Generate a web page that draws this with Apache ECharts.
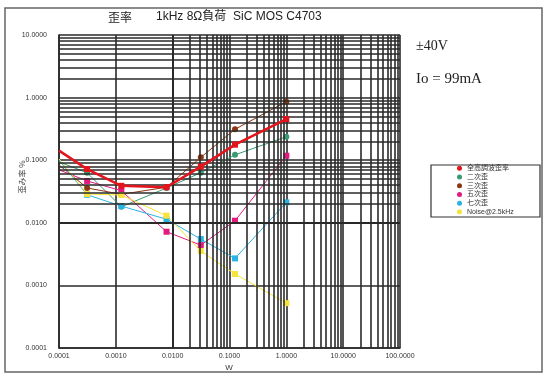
<!DOCTYPE html>
<html>
<head>
<meta charset="utf-8">
<script src="https://cdn.jsdelivr.net/npm/echarts@6/dist/echarts.min.js"></script>
<style>html,body{margin:0;padding:0;background:#fff;}#c{width:548px;height:385px;}</style>
</head>
<body>
<div id="c"></div>
<script>
// Output power (W)
var powerW = [0.0001, 0.0003125, 0.00125, 0.0078, 0.03125, 0.125, 1.0];
// Distortion (%)
var thd    = [0.142, 0.072, 0.039, 0.037, 0.079, 0.177, 0.455];
var h2     = [0.094, 0.063, 0.018, 0.036, 0.063, 0.122, 0.237];
var h3     = [0.084, 0.036, 0.0285, 0.037, 0.111, 0.312, 0.861];
var h5     = [0.070, 0.0466, 0.0326, 0.0072, 0.0044, 0.0108, 0.118];
var h7     = [0.100, 0.028, 0.0185, 0.0114, 0.0055, 0.0027, 0.0212];
var noise  = [0.105, 0.0288, 0.0278, 0.013, 0.00355, 0.00152, 0.00052];
var seriesNames = ['全高調波歪率', '二次歪', '三次歪', '五次歪', '七次歪', 'Noise@2.5kHz'];
var xTickLabels = ['0.0001', '0.0010', '0.0100', '0.1000', '1.0000', '10.0000', '100.0000'];
var yTickLabels = ['0.0001', '0.0010', '0.0100', '0.1000', '1.0000', '10.0000'];

var seriesValues = [thd, h2, h3, h5, h7, noise];
var colors = ['#e3151c', '#3a9a72', '#8b3513', '#e2197f', '#2ab4e4', '#f6e43a'];
var symbols = ['rect', 'circle', 'circle', 'rect', 'rect', 'rect'];
var widths = [2.5, 1, 1, 1, 1, 1];

// minor log grid lines (2..9 per decade)
var xMinor = [], yMinor = [];
for (var k = -4; k <= 1; k++) for (var m = 2; m <= 9; m++) xMinor.push({xAxis: +(m * Math.pow(10, k)).toPrecision(3)});
for (var k2 = -4; k2 <= 0; k2++) for (var m2 = 2; m2 <= 9; m2++) yMinor.push({yAxis: +(m2 * Math.pow(10, k2)).toPrecision(3)});

var gridLine = {color: '#2a2a2a', width: 1.6, type: 'solid'};

var series = seriesValues.map(function (vals, i) {
  return {
    name: seriesNames[i],
    type: 'line',
    data: vals.map(function (v, j) {
      var item = {value: [powerW[j], v]};
      if (j === 0) item.symbol = 'none';
      return item;
    }),
    symbol: symbols[i],
    symbolSize: 6,
    showAllSymbol: true,
    clip: true,
    color: colors[i],
    lineStyle: {color: colors[i], width: widths[i]},
    itemStyle: {color: colors[i]},
    z: i === 0 ? 5 : 3,
    animation: false
  };
});
series.push({
  type: 'line', data: [], silent: true, animation: false,
  markLine: {silent: true, symbol: 'none', label: {show: false}, animation: false,
    lineStyle: gridLine, data: xMinor.concat(yMinor)}
});

var chart = echarts.init(document.getElementById('c'), null, {renderer: 'canvas'});
chart.setOption({
  animation: false,
  backgroundColor: '#fff',
  grid: {left: 59, right: 148, top: 35, bottom: 37},
  xAxis: {
    type: 'log', logBase: 10, min: 0.0001, max: 100, splitNumber: 6,
    axisLine: {show: true, lineStyle: {color: '#2a2a2a', width: 1.6}},
    axisTick: {show: false},
    splitLine: {show: true, lineStyle: gridLine},
    axisLabel: {fontSize: 7, color: '#333', margin: 5, fontFamily: 'Liberation Sans',
      formatter: function (v) { var e = Math.round(Math.log10(v)); return xTickLabels[e + 4]; }}
  },
  yAxis: {
    type: 'log', logBase: 10, min: 0.0001, max: 10, splitNumber: 5,
    axisLine: {show: true, lineStyle: {color: '#2a2a2a', width: 1.6}},
    axisTick: {show: false},
    splitLine: {show: true, lineStyle: gridLine},
    axisLabel: {fontSize: 7, color: '#333', margin: 12, fontFamily: 'Liberation Sans',
      formatter: function (v) { var e = Math.round(Math.log10(v)); return yTickLabels[e + 4]; }}
  },
  legend: {
    orient: 'vertical', left: 457, top: 164, padding: 0, itemGap: 0,
    icon: 'circle', itemWidth: 5, itemHeight: 5,
    textStyle: {fontSize: 7, color: '#333', lineHeight: 8.7, fontFamily: 'Liberation Sans, Noto Sans CJK JP'},
    data: seriesNames
  },
  graphic: [
    {type: 'rect', silent: true, z: -1, shape: {x: 5, y: 8, width: 537, height: 364},
      style: {fill: 'none', stroke: '#666', lineWidth: 1.5}},
    {type: 'rect', silent: true, shape: {x: 431, y: 165, width: 109, height: 52},
      style: {fill: 'none', stroke: '#333', lineWidth: 1.2}},
    {type: 'text', left: 108, top: 11, style: {text: '歪率', fontSize: 12, fill: '#222', fontFamily: 'Noto Sans CJK JP'}},
    {type: 'text', left: 156, top: 11, style: {text: '1kHz 8Ω負荷  SiC MOS C4703', fontSize: 12, fill: '#222', fontFamily: 'Liberation Sans, Noto Sans CJK JP'}},
    {type: 'text', left: 416, top: 39, style: {text: '±40V', fontSize: 14, fill: '#222', fontFamily: 'Liberation Serif'}},
    {type: 'text', left: 416, top: 72, style: {text: 'Io = 99mA', fontSize: 15, fill: '#222', fontFamily: 'Liberation Serif'}},
    {type: 'text', x: 22, y: 177, rotation: Math.PI / 2, style: {text: '歪み率 %', fontSize: 8, fill: '#444', align: 'center', verticalAlign: 'middle', fontFamily: 'Noto Sans CJK JP'}},
    {type: 'text', x: 229, y: 368, style: {text: 'W', fontSize: 8, fill: '#333', align: 'center', verticalAlign: 'middle', fontFamily: 'Liberation Sans'}}
  ],
  series: series
});
</script>
</body>
</html>
